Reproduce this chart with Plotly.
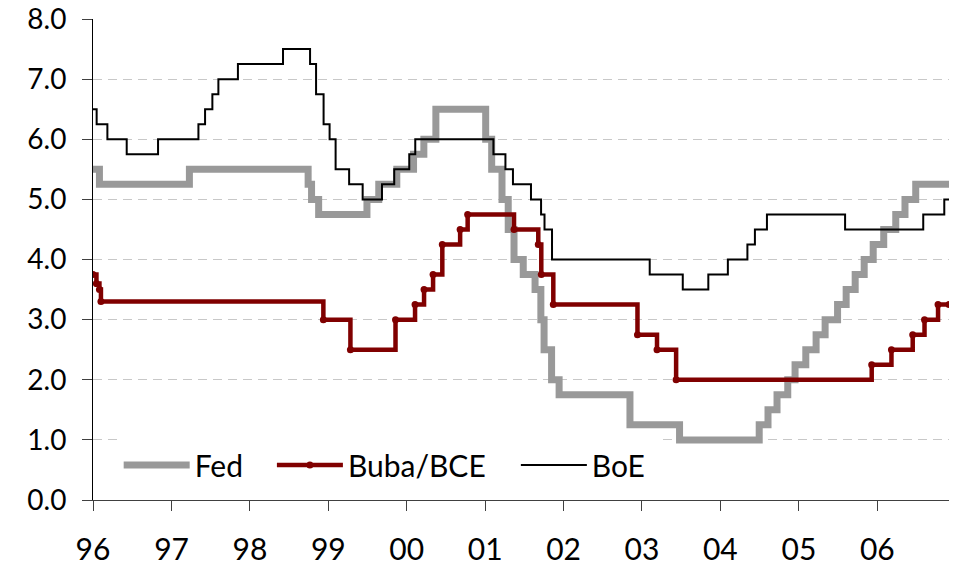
import plotly.graph_objects as go

# Fed funds target rate: change dates and levels
fed_dates = ["1996-01-01", "1996-01-31", "1997-03-25", "1998-09-29", "1998-10-15", "1998-11-17",
             "1999-06-30", "1999-08-24", "1999-11-16", "2000-02-02", "2000-03-21", "2000-05-16",
             "2001-01-03", "2001-01-31", "2001-03-20", "2001-04-18", "2001-05-15", "2001-06-27",
             "2001-08-21", "2001-09-17", "2001-10-02", "2001-11-06", "2001-12-11", "2002-11-06",
             "2003-06-25", "2004-06-30", "2004-08-10", "2004-09-21", "2004-11-10", "2004-12-14",
             "2005-02-02", "2005-03-22", "2005-05-03", "2005-06-30", "2005-08-09", "2005-09-20",
             "2005-11-01", "2005-12-13", "2006-01-31", "2006-03-28", "2006-05-10", "2006-06-29",
             "2006-12-01"]
fed_rates = [5.50, 5.25, 5.50, 5.25, 5.00, 4.75,
             5.00, 5.25, 5.50, 5.75, 6.00, 6.50,
             6.00, 5.50, 5.00, 4.50, 4.00, 3.75,
             3.50, 3.00, 2.50, 2.00, 1.75, 1.25,
             1.00, 1.25, 1.50, 1.75, 2.00, 2.25,
             2.50, 2.75, 3.00, 3.25, 3.50, 3.75,
             4.00, 4.25, 4.50, 4.75, 5.00, 5.25,
             5.25]

# Bundesbank / ECB rate
ecb_dates = ["1996-01-01", "1996-01-17", "1996-01-31", "1996-02-07", "1998-12-09", "1999-04-14",
             "1999-11-10", "2000-02-09", "2000-03-22", "2000-05-03", "2000-06-15", "2000-09-06",
             "2000-10-11", "2001-05-15", "2001-09-05", "2001-09-19", "2001-11-14", "2002-12-11",
             "2003-03-12", "2003-06-09", "2005-12-06", "2006-03-08", "2006-06-15", "2006-08-09",
             "2006-10-11", "2006-12-01"]
ecb_rates = [3.75, 3.60, 3.50, 3.30, 3.00, 2.50,
             3.00, 3.25, 3.50, 3.75, 4.25, 4.50,
             4.75, 4.50, 4.25, 3.75, 3.25, 2.75,
             2.50, 2.00, 2.25, 2.50, 2.75, 3.00,
             3.25, 3.25]

# Bank of England repo rate
boe_dates = ["1996-01-01", "1996-01-18", "1996-03-08", "1996-06-06", "1996-10-30", "1997-05-06",
             "1997-06-06", "1997-07-10", "1997-08-07", "1997-11-06", "1998-06-04", "1998-10-08",
             "1998-11-05", "1998-12-10", "1999-01-07", "1999-02-04", "1999-04-08", "1999-06-10",
             "1999-09-08", "1999-11-04", "2000-01-13", "2000-02-10", "2001-02-08", "2001-04-05",
             "2001-05-10", "2001-08-02", "2001-09-18", "2001-10-04", "2001-11-08", "2003-02-06",
             "2003-07-10", "2003-11-06", "2004-02-05", "2004-05-06", "2004-06-10", "2004-08-05",
             "2005-08-04", "2006-08-03", "2006-11-09", "2006-12-01"]
boe_rates = [6.50, 6.25, 6.00, 5.75, 6.00, 6.25,
             6.50, 6.75, 7.00, 7.25, 7.50, 7.25,
             6.75, 6.25, 6.00, 5.50, 5.25, 5.00,
             5.25, 5.50, 5.75, 6.00, 5.75, 5.50,
             5.25, 5.00, 4.75, 4.50, 4.00, 3.75,
             3.50, 3.75, 4.00, 4.25, 4.50, 4.75,
             4.50, 4.75, 5.00, 5.00]

FONT = "Lato"

fig = go.Figure()
fig.add_trace(go.Scatter(x=fed_dates, y=fed_rates, name="Fed", mode="lines", legend="legend",
                         line=dict(color="#999999", width=7, shape="hv")))
fig.add_trace(go.Scatter(x=ecb_dates, y=ecb_rates, name="Buba/BCE", mode="lines+markers",
                         legend="legend2",
                         line=dict(color="#800000", width=4.5, shape="hv"),
                         marker=dict(color="#800000", size=7)))
fig.add_trace(go.Scatter(x=boe_dates, y=boe_rates, name="BoE", mode="lines", legend="legend3",
                         line=dict(color="#000000", width=2, shape="hv")))

leg_common = dict(orientation="h", y=0.073, xanchor="left", yanchor="middle",
                  bgcolor="white", font=dict(size=30, family=FONT, color="black"), itemwidth=66)

fig.update_layout(
    width=955, height=567,
    margin=dict(l=93, r=6, t=19, b=67, autoexpand=False),
    plot_bgcolor="white", paper_bgcolor="white",
    font=dict(family=FONT, color="black"),
    showlegend=True,
    legend=dict(x=0.030, entrywidth=76, **leg_common),
    legend2=dict(x=0.209, entrywidth=165, **leg_common),
    legend3=dict(x=0.494, entrywidth=60, **leg_common),
)
fig.update_xaxes(
    type="date", range=["1996-01-01", "2006-12-01"],
    tick0="1996-01-01", dtick="M12", tickformat="%y",
    ticks="outside", ticklen=10, tickcolor="#404040",
    showline=True, linecolor="#404040", linewidth=1,
    showgrid=False, zeroline=False, automargin=False,
    tickfont=dict(size=30, family=FONT), ticklabelstandoff=13,
)
fig.update_yaxes(
    range=[0, 8], dtick=1, tickformat=".1f",
    ticks="outside", ticklen=10, tickcolor="#404040",
    showline=True, linecolor="#000000", linewidth=1,
    showgrid=True, gridcolor="#C8C8C8", griddash="9px,6px", gridwidth=1,
    zeroline=False, automargin=False,
    tickfont=dict(size=28, family=FONT), ticklabelstandoff=10,
)

fig.write_html("out.html", config={"displayModeBar": False},
               post_script="document.body.style.margin='0';document.body.style.overflow='hidden';")
